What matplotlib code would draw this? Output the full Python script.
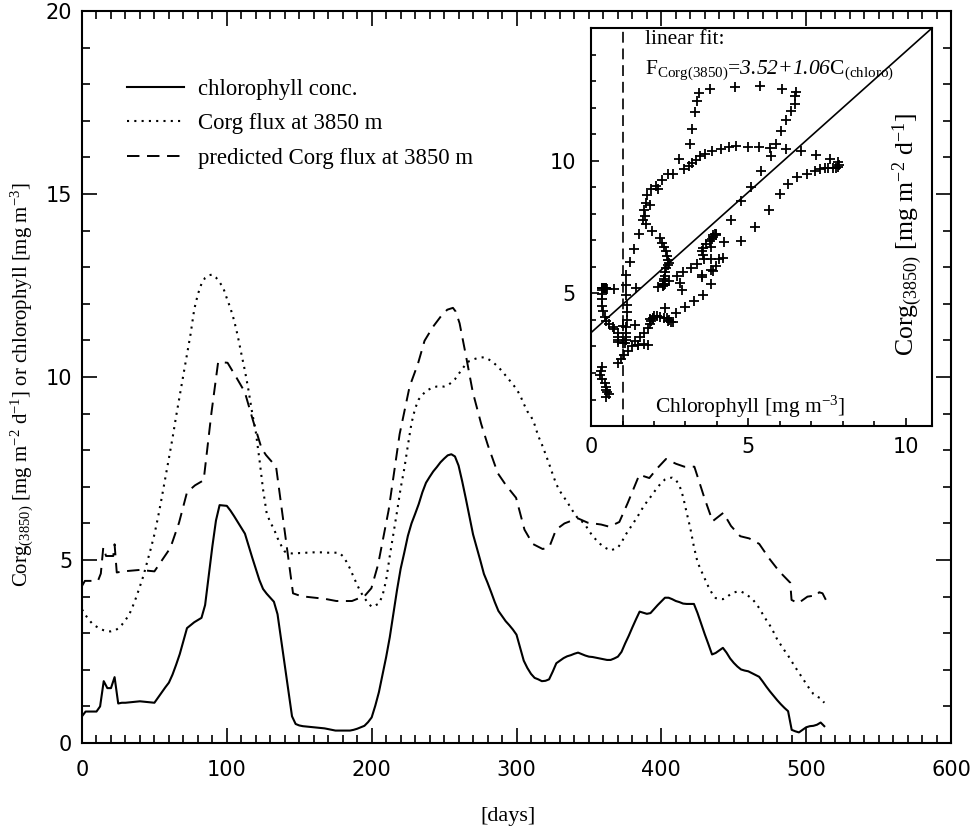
import numpy as np
import matplotlib
matplotlib.use("Agg")
import matplotlib.pyplot as plt
from matplotlib.lines import Line2D

plt.rcParams["font.family"] = "Liberation Serif"
plt.rcParams["mathtext.fontset"] = "custom"
plt.rcParams["mathtext.rm"] = "Liberation Serif"
plt.rcParams["mathtext.it"] = "Liberation Serif:italic"
# \mathit keeps digits upright, so italic numbers go through \mathcal
plt.rcParams["mathtext.cal"] = "Liberation Serif:italic"

# time axis shared by chlorophyll and flux (every 2.5 days)
days = np.arange(0, 513, 2.5)

chl = [0.73, 0.86, 0.86, 0.86, 0.86, 1.0, 1.69, 1.5, 1.5, 1.8,
       1.08, 1.1, 1.1, 1.11, 1.12, 1.13, 1.14, 1.13, 1.12, 1.11,
       1.1, 1.24, 1.38, 1.52, 1.65, 1.87, 2.14, 2.43, 2.78, 3.14,
       3.22, 3.30, 3.36, 3.42, 3.77, 4.58, 5.37, 6.08, 6.5, 6.49,
       6.48, 6.35, 6.2, 6.04, 5.88, 5.72, 5.39, 5.07, 4.76, 4.45,
       4.21, 4.08, 3.97, 3.86, 3.52, 2.82, 2.12, 1.43, 0.73, 0.52,
       0.48, 0.46, 0.45, 0.44, 0.43, 0.42, 0.41, 0.40, 0.38, 0.36,
       0.34, 0.34, 0.34, 0.34, 0.34, 0.36, 0.39, 0.43, 0.47, 0.57,
       0.70, 1.02, 1.39, 1.87, 2.35, 2.89, 3.53, 4.18, 4.76, 5.2,
       5.66, 6.0, 6.26, 6.53, 6.85, 7.11, 7.27, 7.42, 7.54, 7.67,
       7.77, 7.86, 7.89, 7.83, 7.58, 7.15, 6.68, 6.19, 5.7, 5.35,
       4.99, 4.62, 4.38, 4.12, 3.85, 3.61, 3.47, 3.33, 3.22, 3.10,
       2.96, 2.60, 2.25, 2.05, 1.89, 1.78, 1.74, 1.69, 1.70, 1.74,
       1.95, 2.18, 2.25, 2.32, 2.37, 2.40, 2.44, 2.47, 2.43, 2.39,
       2.36, 2.35, 2.33, 2.31, 2.29, 2.27, 2.27, 2.31, 2.36, 2.49,
       2.72, 2.93, 3.16, 3.38, 3.59, 3.56, 3.53, 3.55, 3.66, 3.77,
       3.87, 3.97, 3.97, 3.93, 3.88, 3.85, 3.81, 3.80, 3.80, 3.80,
       3.55, 3.26, 2.97, 2.70, 2.42, 2.46, 2.53, 2.60, 2.47, 2.31,
       2.19, 2.09, 2.01, 1.98, 1.96, 1.91, 1.86, 1.81, 1.68, 1.54,
       1.41, 1.29, 1.17, 1.06, 0.96, 0.87, 0.36, 0.32, 0.29, 0.36,
       0.43, 0.46, 0.47, 0.50, 0.56, 0.46]

flux = [3.65, 3.49, 3.36, 3.24, 3.18, 3.12, 3.08, 3.05, 3.05, 3.07,
        3.13, 3.23, 3.36, 3.5, 3.73, 3.99, 4.28, 4.58, 4.94, 5.31,
        5.70, 6.17, 6.69, 7.23, 7.78, 8.33, 8.93, 9.50, 10.06, 10.62,
        11.18, 11.85, 12.26, 12.55, 12.71, 12.78, 12.80, 12.72, 12.59, 12.44,
        12.15, 11.88, 11.55, 11.13, 10.64, 10.17, 9.63, 9.02, 8.50, 7.75,
        6.93, 6.28, 6.03, 5.85, 5.60, 5.40, 5.23, 5.19, 5.18, 5.18,
        5.19, 5.19, 5.2, 5.2, 5.21, 5.21, 5.21, 5.2, 5.2, 5.2,
        5.2, 5.2, 5.11, 4.96, 4.77, 4.54, 4.32, 4.12, 3.96, 3.83,
        3.72, 3.76, 3.81, 4.03, 4.45, 5.11, 5.71, 6.32, 6.96, 7.49,
        8.13, 8.74, 9.14, 9.39, 9.51, 9.62, 9.67, 9.72, 9.74, 9.74,
        9.74, 9.77, 9.85, 9.94, 10.08, 10.22, 10.35, 10.44, 10.48, 10.51,
        10.53, 10.54, 10.50, 10.44, 10.36, 10.27, 10.16, 10.04, 9.92, 9.80,
        9.67, 9.50, 9.27, 9.06, 8.93, 8.70, 8.39, 8.16, 7.90, 7.63,
        7.34, 7.07, 6.88, 6.73, 6.59, 6.42, 6.27, 6.13, 6.06, 5.96,
        5.80, 5.66, 5.55, 5.45, 5.36, 5.31, 5.26, 5.30, 5.34, 5.48,
        5.67, 5.82, 5.97, 6.12, 6.28, 6.45, 6.59, 6.72, 6.86, 6.99,
        7.11, 7.20, 7.24, 7.25, 7.19, 7.04, 6.73, 6.29, 5.87, 5.36,
        4.94, 4.71, 4.49, 4.27, 4.09, 3.96, 3.94, 3.93, 3.98, 4.06,
        4.11, 4.14, 4.14, 4.09, 4.02, 3.95, 3.83, 3.69, 3.52, 3.36,
        3.21, 3.03, 2.83, 2.68, 2.53, 2.39, 2.23, 2.07, 1.92, 1.77,
        1.62, 1.47, 1.34, 1.27, 1.22, 1.10]

# predicted flux
pred_days = [0, 2, 11, 13, 14.7, 16.6, 21.6, 22.5, 24, 28.5,
             40, 50, 61, 67, 72.5, 78, 84, 89.4, 94, 100.5,
             106.7, 112.4, 118, 124, 127, 134, 145.7, 151.5, 167.6, 175.6,
             186.4, 195.2, 199.8, 204.4, 211.7, 219.3, 226.2, 232, 236.5, 242.3,
             248, 252.2, 256.1, 258, 260.7, 265.2, 269.8, 275.6, 280.2, 287.1,
             292.8, 299.7, 305.5, 311.2, 318.1, 322.7, 327.3, 333.1, 342.3, 349.2,
             358.4, 364.1, 371, 376.7, 384.8, 391.7, 397.5, 403.2, 410.1, 415.9,
             422.8, 429.7, 435.4, 442.8, 448.1, 454.5, 460.7, 467.6, 474.5, 481.4,
             489, 489.9, 494.5, 500.9, 504.4, 506.7, 509, 511.3, 513.6]
pred = [4.29, 4.43, 4.43, 4.63, 5.35, 5.11, 5.11, 5.43, 4.66, 4.69,
        4.73, 4.69, 5.33, 6.02, 6.85, 7.04, 7.18, 9.03, 10.41, 10.39,
        9.98, 9.59, 8.82, 8.05, 7.87, 7.55, 4.09, 4.01, 3.94, 3.88,
        3.88, 4.02, 4.23, 4.87, 6.36, 8.44, 9.74, 10.37, 10.99, 11.37,
        11.67, 11.84, 11.89, 11.79, 11.47, 10.56, 9.59, 8.72, 8.14, 7.37,
        7.04, 6.70, 5.83, 5.44, 5.30, 5.36, 5.83, 6.0, 6.14, 6.02,
        5.97, 5.91, 6.04, 6.55, 7.33, 7.24, 7.52, 7.76, 7.63, 7.55,
        7.55, 6.70, 6.06, 6.29, 5.93, 5.65, 5.59, 5.44, 5.04, 4.69,
        4.38, 3.91, 3.82, 4.0, 4.02, 4.01, 4.12, 4.09, 3.91]

# linear fit of flux on chlorophyll
fit_a = 3.52
fit_b = 1.06
chl_cut = 1.0

dotted = (0, (1, 2.5))
dashed = (0, (6.4, 3.9))

fig = plt.figure(figsize=(9.75, 8.3), dpi=100)
ax = fig.add_axes([0.0841, 0.1048, 0.8913, 0.8819])

ax.plot(days, chl, color="k", lw=1.5)
ax.plot(days, flux, color="k", lw=1.5, linestyle=dotted)
ax.plot(pred_days, pred, color="k", lw=1.4, linestyle=dashed)

ax.set_xlim(0, 600)
ax.set_ylim(0, 20)
ax.set_xticks(range(0, 601, 100))
ax.set_xticks(range(0, 601, 10), minor=True)
ax.set_yticks(range(0, 21, 5))
ax.set_yticks(range(0, 21), minor=True)
ax.tick_params(which="both", direction="in", top=True, right=True, width=1.2,
               labelsize=15, labelfontfamily="DejaVu Sans")
ax.tick_params(which="major", length=10.8)
ax.tick_params(which="minor", length=6)
ax.tick_params(axis="x", pad=12)
ax.tick_params(axis="y", pad=7)
for s in ax.spines.values():
    s.set_linewidth(1.5)

handles = [Line2D([], [], color="k", lw=1.5),
           Line2D([], [], color="k", lw=1.5, linestyle=dotted),
           Line2D([], [], color="k", lw=1.4, linestyle=dashed)]
labels = ["chlorophyll conc.", "Corg flux at 3850 m",
          "predicted Corg flux at 3850 m"]
ax.legend(handles, labels, loc="upper left", bbox_to_anchor=(0.052, 0.9075),
          frameon=False, fontsize=16.4, handlelength=2.5, handletextpad=0.61,
          labelspacing=0.6, borderpad=0, borderaxespad=0)

fig.text(0.0235, 0.536,
         r"Corg$_{(3850)}$ [mg m$^{-2}$ d$^{-1}$] or chlorophyll [mg m$^{-3}$]",
         rotation=90, ha="center", va="center", fontsize=15)
fig.text(0.521, 0.0157, "[days]", ha="center", va="center", fontsize=16)

# inset: flux against chlorophyll
ins = fig.add_axes([0.6062, 0.4867, 0.3497, 0.4795])
ins.plot(chl, flux, "+", color="k", ms=6.5, mew=1.3, ls="none")
ins.axline((0, fit_a), slope=fit_b, color="k", lw=1.2)
ins.axvline(chl_cut, color="k", lw=1.2, linestyle=(0, (6.5, 3.5)))
ins.set_xlim(0, 10.83)
ins.set_ylim(0, 15)
ins.set_xticks([0, 5, 10])
ins.set_xticks(range(0, 11), minor=True)
ins.set_yticks([5, 10])
ins.set_yticks(range(0, 16), minor=True)
ins.tick_params(which="both", direction="in", width=1.2,
                labelsize=15, labelfontfamily="DejaVu Sans")
ins.tick_params(which="major", length=5.5)
ins.tick_params(which="minor", length=3.5)
ins.tick_params(axis="x", pad=8)
ins.tick_params(axis="y", pad=11)
for s in ins.spines.values():
    s.set_linewidth(1.5)

ins.text(0.158, 0.995, "linear fit:", transform=ins.transAxes,
         ha="left", va="top", fontsize=15.5)
ins.text(0.158, 0.894,
         r"F$_{\mathrm{Corg(3850)}}$=$\mathcal{3.52{+}1.06}$C$_{\mathrm{(chloro)}}$",
         transform=ins.transAxes, ha="left", va="center", fontsize=15.5)
ins.text(0.466, 0.048, r"Chlorophyll [mg m$^{-3}$]", transform=ins.transAxes,
         ha="center", va="center", fontsize=15.5)
ins.text(0.93, 0.48, r"Corg$_{(3850)}$ [mg m$^{-2}$ d$^{-1}$]",
         transform=ins.transAxes, rotation=90, ha="center", va="center",
         fontsize=18.5)

fig.savefig("out.png", dpi=100)
